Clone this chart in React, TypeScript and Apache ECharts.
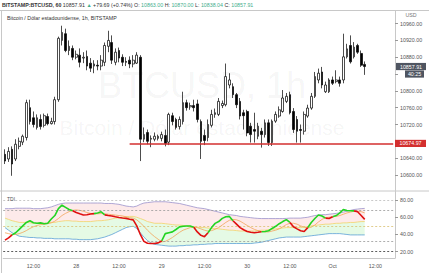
import React, { useEffect, useRef } from "react";
import * as echarts from "echarts";

// ---------- DATA ----------
const START_UTC = Date.UTC(2019, 8, 27, 4); // 27 Sep 04:00, first candle
const SLOTS = 110; // visible hourly slots on the time axis

const opens = [10649, 10638, 10661, 10638, 10668, 10678, 10689, 10760, 10736, 10713, 10732, 10718, 10739, 10722, 10727, 10779, 10920, 10936, 10896, 10901, 10880, 10885, 10878, 10882, 10866, 10859, 10861, 10859, 10868, 10906, 10915, 10868, 10896, 10880, 10870, 10873, 10864, 10866, 10880, 10685, 10701, 10685, 10685, 10687, 10687, 10694, 10678, 10741, 10732, 10715, 10727, 10772, 10762, 10765, 10769, 10727, 10694, 10689, 10718, 10744, 10744, 10765, 10767, 10814, 10810, 10791, 10775, 10748, 10751, 10716, 10708, 10692, 10704, 10696, 10724, 10677, 10728, 10740, 10751, 10775, 10791, 10751, 10732, 10708, 10704, 10740, 10759, 10787, 10826, 10845, 10798, 10798, 10826, 10822, 10826, 10826, 10881, 10908, 10881, 10908, 10889, 10863];
const closes = [10633, 10656, 10626, 10673, 10680, 10692, 10772, 10727, 10720, 10736, 10715, 10741, 10722, 10727, 10779, 10925, 10939, 10896, 10906, 10880, 10887, 10868, 10880, 10859, 10854, 10864, 10859, 10873, 10908, 10920, 10873, 10892, 10878, 10868, 10868, 10864, 10873, 10885, 10685, 10696, 10680, 10687, 10692, 10692, 10696, 10675, 10744, 10727, 10713, 10732, 10772, 10760, 10765, 10760, 10732, 10680, 10682, 10720, 10744, 10748, 10775, 10770, 10834, 10826, 10791, 10767, 10740, 10741, 10700, 10696, 10704, 10716, 10696, 10724, 10677, 10728, 10744, 10755, 10783, 10787, 10748, 10708, 10704, 10706, 10744, 10759, 10787, 10834, 10842, 10814, 10814, 10826, 10818, 10826, 10818, 10881, 10900, 10869, 10904, 10892, 10861, 10857.91];
const lows = [10626, 10631, 10598, 10633, 10661, 10671, 10682, 10720, 10713, 10708, 10708, 10713, 10718, 10720, 10720, 10774, 10908, 10892, 10885, 10873, 10875, 10856, 10866, 10849, 10845, 10842, 10849, 10849, 10859, 10892, 10864, 10861, 10868, 10859, 10859, 10854, 10856, 10864, 10633, 10678, 10673, 10666, 10680, 10682, 10680, 10668, 10671, 10718, 10708, 10708, 10720, 10753, 10755, 10751, 10725, 10638, 10671, 10680, 10713, 10736, 10740, 10759, 10763, 10806, 10783, 10759, 10732, 10708, 10692, 10677, 10677, 10685, 10665, 10689, 10669, 10669, 10724, 10736, 10748, 10771, 10744, 10700, 10677, 10677, 10696, 10736, 10755, 10783, 10818, 10806, 10795, 10795, 10814, 10818, 10810, 10818, 10877, 10865, 10877, 10888, 10857, 10838.04];
const highs = [10661, 10666, 10668, 10685, 10689, 10696, 10779, 10779, 10751, 10744, 10744, 10746, 10746, 10736, 10786, 10929, 10955, 10948, 10920, 10908, 10896, 10901, 10892, 10896, 10878, 10873, 10873, 10885, 10915, 10943, 10932, 10901, 10903, 10887, 10880, 10882, 10885, 10892, 10885, 10713, 10708, 10694, 10701, 10696, 10703, 10708, 10748, 10748, 10736, 10739, 10798, 10779, 10772, 10779, 10779, 10732, 10708, 10732, 10755, 10758, 10783, 10777, 10865, 10842, 10818, 10795, 10783, 10755, 10755, 10724, 10748, 10724, 10712, 10732, 10732, 10732, 10751, 10763, 10802, 10795, 10798, 10759, 10740, 10720, 10751, 10767, 10795, 10845, 10853, 10857, 10822, 10830, 10834, 10849, 10834, 10936, 10912, 10932, 10916, 10912, 10896, 10870];

// TDI indicator values
const rsiValues = [33.5, 36, 39.5, 42, 46, 50, 54, 56, 53.6, 53, 53.5, 52.5, 53, 58, 62, 70, 74, 71.5, 69, 67.5, 65.5, 64, 62.6, 63, 63.7, 64.2, 65, 66.4, 62.8, 62, 61.5, 60.5, 59.8, 59.2, 58.7, 57.6, 57, 50, 40, 32, 29.8, 29.6, 29.6, 30.3, 32.5, 41, 42, 43, 45.8, 48.8, 49.5, 49.8, 49.8, 48.5, 43, 39, 37.5, 42, 48, 52.9, 55, 58.7, 60.5, 61, 56, 52, 48, 45.5, 43.5, 42.5, 42, 42.5, 43.2, 43.5, 44.3, 47, 49.5, 52.5, 55, 57.3, 54, 49, 46.5, 44.3, 43.5, 48, 54, 58.5, 62.6, 61.5, 59, 58.5, 60.5, 62, 65, 69, 67.8, 67.6, 67.4, 66.4, 62, 57.5];
const signalValues = [42, 41, 40, 40, 41, 42.5, 44.5, 47, 49, 50.5, 51.5, 52, 52.5, 53.5, 55.5, 58.5, 62, 64.5, 66.5, 68, 68.5, 68, 67, 65.5, 64.5, 64, 64, 64.3, 64, 63.5, 63, 62.5, 62, 61.5, 60.5, 59.5, 59, 57, 53.5, 49.5, 45, 41, 37.5, 34.5, 31.5, 32, 34, 36.5, 39.5, 42.5, 45, 46.5, 48, 48.5, 48, 46.5, 45, 44, 44.5, 46, 48, 51, 54, 56.5, 57.5, 57, 55.5, 53, 50.5, 48, 46, 44.5, 43.5, 43, 43, 44, 45, 46.5, 49, 51.5, 53, 53, 52, 50, 48.5, 47.5, 48.5, 51, 54.5, 57.5, 59.5, 60, 60.5, 61, 62, 63.5, 65, 66, 67, 67, 66.5, 65];
const upperBand = [70, 70, 70, 70.5, 70.5, 70.5, 70.5, 70.5, 70, 70, 70, 70.5, 71, 72, 73.5, 75, 76, 76.5, 76.5, 76.5, 76.5, 76.5, 76.5, 76.5, 76.5, 76.5, 76.5, 76.5, 76, 76, 76, 75.5, 75, 74, 73, 72.5, 72, 73, 75, 76.5, 77, 77.5, 78, 78, 78, 78, 77.5, 77, 76.5, 76, 75, 74, 73, 72, 71, 70.5, 70, 69, 68, 67, 66, 65, 64, 63, 62.5, 62, 61, 60.5, 60, 59.5, 59, 58.7, 58.5, 58.5, 58.5, 58.5, 58.5, 58.5, 58.5, 58.7, 59, 59, 59, 59, 59.5, 60, 61, 62, 62.5, 63, 63, 63.5, 64, 64.5, 65, 66, 67, 68, 69, 69.5, 70, 70.3];
const middleBand = [59, 57.5, 56, 55, 54, 54, 54, 53.5, 53, 53, 53, 53, 53, 54, 54, 55, 55.5, 56, 56, 55.5, 55.5, 55, 55, 55, 55, 55.5, 56, 56, 56.5, 57, 58, 59, 59.5, 60, 60.5, 61, 61, 60, 58.5, 57, 55, 54, 53, 53, 53, 52.5, 52, 51.5, 51, 51, 50.5, 50, 49.5, 49, 48.5, 48, 48, 47.5, 47, 47, 46.5, 46, 45.5, 45, 45, 44.5, 44, 44, 44, 44, 44, 44.5, 45, 45, 45.5, 46, 46.5, 47, 47.5, 48, 48, 48, 48, 48, 48.5, 49, 50, 50.5, 51, 51.5, 52, 52, 52.5, 53, 53, 53.5, 53.5, 54, 54, 54.5, 55, 55];
const lowerBand = [48, 45, 42, 40, 38, 37.5, 37, 36.5, 36.5, 36, 36, 35.5, 35.5, 35.5, 35, 35, 35, 35, 35, 34.5, 34.5, 34, 34, 34, 34, 34.5, 35, 36, 37, 38.5, 40, 42, 44, 46, 48, 49, 49.5, 47, 42, 37, 33, 30, 28.5, 28, 27.5, 27, 26.5, 26.5, 26.5, 27, 27, 27.5, 27.5, 28, 28, 28.5, 28.5, 29, 29, 29.5, 29.5, 29.5, 29.5, 29.5, 29.5, 29.5, 29.5, 29.5, 29.5, 29.5, 30, 30.5, 31, 32, 33, 34, 35, 36, 36.5, 37, 37, 37, 37, 37, 37.5, 38, 38.5, 39, 39.5, 40, 40.5, 41, 41, 41, 41, 40.5, 40, 39.5, 39.5, 39.5, 39.5, 39.5];
const tdiLevels = [80, 68, 50, 32, 20];

const priceTicks = [10600, 10640, 10680, 10720, 10760, 10800, 10840, 10880, 10920, 10960];
const hiddenPriceLabels = [10680, 10840]; // covered by the price tags
const rsiTicks = [20, 40, 60, 80];
const lastPrice = 10857.91;
const supportLevel = 10674.97;
const supportStart = 35;
const countdown = "40:25";

// ---------- COMPONENT ----------
const FONT = "Liberation Sans, Arial, sans-serif";
const TEAL = "#3fae8c";

export default function App() {
  const ref = useRef<HTMLDivElement>(null);

  useEffect(() => {
    document.body.style.margin = "0";
    const el = ref.current!;
    const chart = echarts.init(el, null, { renderer: "svg" });

    const categories = Array.from({ length: SLOTS }, (_, i) => {
      const d = new Date(START_UTC + i * 3600e3);
      return `${d.getUTCMonth() + 1}-${d.getUTCDate()} ${String(d.getUTCHours()).padStart(2, "0")}:00`;
    });
    const hourOf = (c: string) => parseInt(c.split(" ")[1], 10);
    const dayOf = (c: string) => parseInt(c.split(" ")[0].split("-")[1], 10);

    const ohlc = opens.map((o, i) => [o, closes[i], lows[i], highs[i]]);

    const rsiUp: (number | null)[] = rsiValues.map(() => null);
    const rsiDown: (number | null)[] = rsiValues.map(() => null);
    for (let i = 0; i < rsiValues.length - 1; i++) {
      const up = rsiValues[i] + rsiValues[i + 1] >= signalValues[i] + signalValues[i + 1];
      const arr = up ? rsiUp : rsiDown;
      arr[i] = rsiValues[i];
      arr[i + 1] = rsiValues[i + 1];
    }
    const greenFill = middleBand.map((m, i) => m - lowerBand[i]);
    const pinkFill = upperBand.map((u, i) => u - middleBand[i]);

    const labelStyle = { fontSize: 5.3, color: "#555", fontFamily: FONT };
    const line = (data: (number | null)[], color: string, width: number, z = 3) => ({
      type: "line",
      xAxisIndex: 1,
      yAxisIndex: 1,
      data,
      symbol: "none",
      silent: true,
      z,
      lineStyle: { color, width },
    });

    const option: any = {
      animation: false,
      backgroundColor: "#ffffff",
      grid: [
        { left: 3.2, right: 34, top: 11, height: 179.5 },
        { left: 3.2, right: 34, top: 191.5, height: 66.5 },
      ],
      xAxis: [
        {
          type: "category",
          gridIndex: 0,
          data: categories,
          boundaryGap: true,
          axisLine: { show: false },
          axisTick: { show: false },
          axisLabel: { show: false },
          splitLine: { show: false },
        },
        {
          type: "category",
          gridIndex: 1,
          data: categories,
          boundaryGap: true,
          axisLine: { show: true, lineStyle: { color: "#c8c8c8", width: 1 } },
          axisTick: { show: false },
          axisLabel: {
            ...labelStyle,
            margin: 5,
            interval: (_i: number, v: string) => hourOf(v) % 12 === 0,
            formatter: (v: string) => {
              const h = hourOf(v);
              if (h === 12) return "12:00";
              const d = dayOf(v);
              return d === 1 ? "Oct" : String(d);
            },
          },
          splitLine: { show: false },
        },
      ],
      yAxis: [
        {
          type: "value",
          gridIndex: 0,
          position: "right",
          min: 10563,
          max: 10990,
          axisLine: { show: true, lineStyle: { color: "#c8c8c8" } },
          axisTick: { show: true, length: 3, customValues: priceTicks, lineStyle: { color: "#999" } },
          axisLabel: {
            ...labelStyle,
            margin: 5,
            customValues: priceTicks.filter((v) => !hiddenPriceLabels.includes(v)),
            formatter: (v: number) => v.toFixed(2),
          },
          splitLine: { show: false },
        },
        {
          type: "value",
          gridIndex: 1,
          position: "right",
          min: 12.7,
          max: 89.9,
          axisLine: { show: true, lineStyle: { color: "#c8c8c8" } },
          axisTick: { show: true, length: 3, customValues: rsiTicks, lineStyle: { color: "#999" } },
          axisLabel: {
            ...labelStyle,
            margin: 5,
            customValues: rsiTicks,
            formatter: (v: number) => v.toFixed(2),
          },
          splitLine: { show: false },
        },
      ],
      series: [
        {
          type: "candlestick",
          xAxisIndex: 0,
          yAxisIndex: 0,
          data: ohlc,
          barWidth: 2.2,
          silent: true,
          itemStyle: {
            color: "#ffffff",
            color0: "#000000",
            borderColor: "#000000",
            borderColor0: "#000000",
            borderWidth: 0.7,
          },
          markLine: {
            symbol: "none",
            silent: true,
            label: { show: false },
            lineStyle: { color: "#d32f2f", width: 1.5, type: "solid" },
            data: [
              [
                { coord: [categories[supportStart], supportLevel] },
                { coord: [categories[SLOTS - 1], supportLevel] },
              ],
            ],
          },
        },
        {
          type: "line",
          xAxisIndex: 1,
          yAxisIndex: 1,
          data: lowerBand,
          stack: "tdi",
          symbol: "none",
          silent: true,
          lineStyle: { opacity: 0 },
          z: 1,
          markLine: {
            symbol: "none",
            silent: true,
            label: { show: false },
            data: tdiLevels.map((v) => ({
              yAxis: v,
              lineStyle: {
                type: [2, 2],
                width: 0.8,
                color: v === 20 ? "#333" : v === 50 ? "#d9c070" : v === 80 ? "#bbb" : "#999",
              },
            })),
          },
        },
        {
          type: "line",
          xAxisIndex: 1,
          yAxisIndex: 1,
          data: greenFill,
          stack: "tdi",
          symbol: "none",
          silent: true,
          lineStyle: { opacity: 0 },
          areaStyle: { color: "rgba(150, 235, 150, 0.35)" },
          z: 1,
        },
        {
          type: "line",
          xAxisIndex: 1,
          yAxisIndex: 1,
          data: pinkFill,
          stack: "tdi",
          symbol: "none",
          silent: true,
          lineStyle: { opacity: 0 },
          areaStyle: { color: "rgba(245, 150, 150, 0.28)" },
          z: 1,
        },
        line(upperBand, "#9a92cc", 0.8),
        line(lowerBand, "#5b9fd6", 0.8),
        line(middleBand, "#f2d36a", 0.8),
        line(signalValues, "#f3a55a", 0.8, 4),
        line(rsiUp, "#22d422", 1.6, 5),
        line(rsiDown, "#e01010", 1.6, 5),
      ],
    };

    chart.setOption(option);

    const yLast = chart.convertToPixel({ yAxisIndex: 0 }, lastPrice) as number;
    const ySup = chart.convertToPixel({ yAxisIndex: 0 }, supportLevel) as number;
    const axisX = 395;

    const tag = (y: number, x: number, w: number, text: string, fill: string) => [
      { type: "rect", shape: { x, y: y - 3.6, width: w, height: 7.2 }, style: { fill }, z: 100 },
      {
        type: "text",
        x: x + w / 2,
        y,
        style: { text, fill: "#fff", font: `5.3px ${FONT}`, textAlign: "center", textVerticalAlign: "middle" },
        z: 101,
      },
    ];

    const graphics: any[] = [
      // frame lines
      { type: "line", shape: { x1: 0, y1: 10.5, x2: 429, y2: 10.5 }, style: { stroke: "#c8c8c8", lineWidth: 1 }, z: 50 },
      { type: "line", shape: { x1: 0, y1: 191, x2: 429, y2: 191 }, style: { stroke: "#c8c8c8", lineWidth: 1 }, z: 50 },
      { type: "line", shape: { x1: 1.5, y1: 10.5, x2: 1.5, y2: 273 }, style: { stroke: "#c8c8c8", lineWidth: 1 }, z: 50 },
      // watermark
      {
        type: "text",
        x: 202,
        y: 85,
        style: { text: "BTCUSD, 1h", fill: "rgba(0,0,0,0.05)", font: `36px ${FONT}`, textAlign: "center", textVerticalAlign: "middle" },
        z: 0,
      },
      {
        type: "text",
        x: 202,
        y: 127,
        style: { text: "Bitcoin / Dólar estadounidense", fill: "rgba(0,0,0,0.05)", font: `21px ${FONT}`, textAlign: "center", textVerticalAlign: "middle" },
        z: 0,
      },
      // header
      {
        type: "text",
        x: 2,
        y: 4.5,
        style: {
          text:
            "{k|BITSTAMP:BTCUSD, 60} {d|10857.91} {g|▲} {d|+79.69 (+0.74%)} {d|O:} {g|10863.00} {d|H:} {g|10870.00} {d|L:} {g|10838.04} {d|C:} {g|10857.91}",
          textVerticalAlign: "middle",
          font: `5.3px ${FONT}`,
          rich: {
            k: { fontSize: 5.3, fontWeight: "bold", fill: "#333", fontFamily: FONT },
            d: { fontSize: 5.3, fill: "#333", fontFamily: FONT },
            g: { fontSize: 5.3, fill: TEAL, fontFamily: FONT },
          },
        },
        z: 60,
      },
      {
        type: "text",
        x: 7,
        y: 17.5,
        style: { text: "Bitcoin / Dólar estadounidense, 1h, BITSTAMP", fill: "#333", font: `5.3px ${FONT}`, textVerticalAlign: "middle" },
        z: 60,
      },
      {
        type: "text",
        x: 411,
        y: 15,
        style: { text: "USD", fill: "#777", font: `5.3px ${FONT}`, textAlign: "center", textVerticalAlign: "middle" },
        z: 60,
      },
      {
        type: "text",
        x: 7,
        y: 199,
        style: { text: "TDI", fill: "#555", font: `5px ${FONT}`, textVerticalAlign: "middle" },
        z: 60,
      },
      ...tag(yLast, axisX + 1, 30, lastPrice.toFixed(2), "#4f5561"),
      ...tag(yLast + 7.5, 405, 19, countdown, "#4f5561"),
      ...tag(ySup, axisX, 31, supportLevel.toFixed(2), "#d32f2f"),
    ];

    chart.setOption({ graphic: { elements: graphics } });

    return () => chart.dispose();
  }, []);

  return <div ref={ref} style={{ width: 429, height: 273 }} />;
}
